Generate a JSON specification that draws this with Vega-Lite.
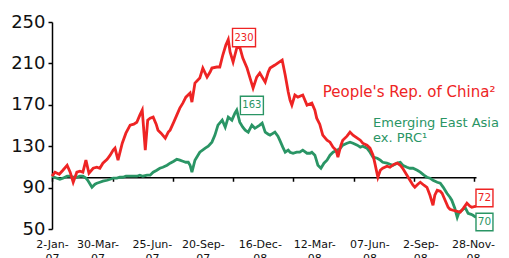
{
 "$schema": "https://vega.github.io/schema/vega-lite/v6.json",
 "width": 424,
 "height": 207,
 "autosize": "none",
 "padding": {"left": 52, "top": 22, "right": 33, "bottom": 29},
 "background": "white",
 "config": {"view": {"stroke": null}, "font": "DejaVu Sans", "axis": {"labelFont": "DejaVu Sans", "grid": false}},
 "datasets": {
  "eea": [
   {"d":"2007-01-02","v":101.0},{"d":"2007-01-10","v":99.1},{"d":"2007-01-15","v":98.1},{"d":"2007-01-20","v":99.1},{"d":"2007-01-27","v":101.0},{"d":"2007-02-01","v":101.0},{"d":"2007-02-07","v":100.0},{"d":"2007-02-12","v":100.0},{"d":"2007-02-17","v":101.0},{"d":"2007-02-22","v":101.0},{"d":"2007-02-27","v":99.1},{"d":"2007-03-02","v":97.1},{"d":"2007-03-06","v":93.3},{"d":"2007-03-09","v":90.3},{"d":"2007-03-14","v":93.3},{"d":"2007-03-17","v":94.2},{"d":"2007-03-22","v":95.2},{"d":"2007-03-27","v":96.2},{"d":"2007-04-03","v":97.1},{"d":"2007-04-08","v":98.1},{"d":"2007-04-13","v":99.1},{"d":"2007-04-19","v":99.1},{"d":"2007-04-24","v":100.0},{"d":"2007-04-29","v":100.0},{"d":"2007-05-04","v":101.0},{"d":"2007-05-11","v":101.0},{"d":"2007-05-17","v":101.0},{"d":"2007-05-22","v":101.0},{"d":"2007-05-27","v":102.0},{"d":"2007-06-01","v":101.0},{"d":"2007-06-08","v":102.0},{"d":"2007-06-13","v":102.0},{"d":"2007-06-18","v":104.9},{"d":"2007-06-24","v":106.8},{"d":"2007-06-29","v":108.7},{"d":"2007-07-04","v":109.7},{"d":"2007-07-11","v":111.6},{"d":"2007-07-16","v":113.6},{"d":"2007-07-22","v":115.5},{"d":"2007-07-27","v":117.4},{"d":"2007-08-01","v":116.5},{"d":"2007-08-06","v":115.5},{"d":"2007-08-11","v":114.5},{"d":"2007-08-15","v":114.5},{"d":"2007-08-18","v":111.6},{"d":"2007-08-21","v":104.9},{"d":"2007-08-26","v":116.5},{"d":"2007-08-29","v":119.4},{"d":"2007-09-03","v":124.2},{"d":"2007-09-12","v":128.1},{"d":"2007-09-17","v":130.0},{"d":"2007-09-23","v":133.9},{"d":"2007-09-28","v":140.7},{"d":"2007-10-03","v":150.3},{"d":"2007-10-10","v":155.2},{"d":"2007-10-15","v":148.4},{"d":"2007-10-20","v":158.1},{"d":"2007-10-26","v":155.2},{"d":"2007-10-31","v":162.0},{"d":"2007-11-03","v":164.9},{"d":"2007-11-08","v":153.2},{"d":"2007-11-13","v":148.4},{"d":"2007-11-17","v":145.5},{"d":"2007-11-22","v":143.6},{"d":"2007-11-28","v":150.3},{"d":"2007-12-03","v":147.4},{"d":"2007-12-06","v":148.4},{"d":"2007-12-11","v":150.3},{"d":"2007-12-15","v":152.3},{"d":"2007-12-20","v":143.6},{"d":"2007-12-25","v":141.6},{"d":"2007-12-28","v":140.7},{"d":"2008-01-05","v":143.6},{"d":"2008-01-10","v":139.7},{"d":"2008-01-13","v":135.8},{"d":"2008-01-18","v":129.1},{"d":"2008-01-22","v":124.2},{"d":"2008-01-27","v":126.2},{"d":"2008-01-30","v":124.2},{"d":"2008-02-04","v":123.2},{"d":"2008-02-10","v":124.2},{"d":"2008-02-15","v":124.2},{"d":"2008-02-20","v":126.2},{"d":"2008-02-27","v":123.2},{"d":"2008-03-03","v":123.2},{"d":"2008-03-06","v":124.2},{"d":"2008-03-11","v":121.3},{"d":"2008-03-16","v":111.6},{"d":"2008-03-21","v":108.7},{"d":"2008-03-26","v":113.6},{"d":"2008-03-31","v":116.5},{"d":"2008-04-05","v":121.3},{"d":"2008-04-10","v":124.2},{"d":"2008-04-17","v":126.2},{"d":"2008-04-22","v":128.1},{"d":"2008-04-26","v":131.0},{"d":"2008-05-03","v":132.9},{"d":"2008-05-08","v":133.9},{"d":"2008-05-13","v":132.9},{"d":"2008-05-20","v":131.0},{"d":"2008-05-25","v":129.1},{"d":"2008-05-29","v":130.0},{"d":"2008-06-05","v":128.1},{"d":"2008-06-10","v":124.2},{"d":"2008-06-15","v":119.4},{"d":"2008-06-22","v":118.4},{"d":"2008-06-27","v":116.5},{"d":"2008-07-01","v":114.5},{"d":"2008-07-08","v":113.6},{"d":"2008-07-13","v":112.6},{"d":"2008-07-18","v":111.6},{"d":"2008-07-25","v":113.6},{"d":"2008-07-30","v":114.5},{"d":"2008-08-03","v":111.6},{"d":"2008-08-10","v":109.7},{"d":"2008-08-15","v":108.7},{"d":"2008-08-20","v":108.7},{"d":"2008-08-27","v":106.8},{"d":"2008-09-01","v":104.9},{"d":"2008-09-07","v":102.0},{"d":"2008-09-12","v":100.0},{"d":"2008-09-17","v":99.1},{"d":"2008-09-22","v":97.1},{"d":"2008-09-29","v":95.2},{"d":"2008-10-04","v":94.2},{"d":"2008-10-09","v":90.3},{"d":"2008-10-15","v":84.5},{"d":"2008-10-20","v":80.7},{"d":"2008-10-23","v":77.8},{"d":"2008-10-28","v":70.0},{"d":"2008-11-01","v":61.3},{"d":"2008-11-04","v":66.2},{"d":"2008-11-09","v":68.1},{"d":"2008-11-14","v":71.0},{"d":"2008-11-19","v":65.2},{"d":"2008-11-24","v":64.2},{"d":"2008-11-27","v":63.3},{"d":"2008-12-02","v":61.3}
  ],
  "prc": [
   {"d":"2007-01-02","v":101.0},{"d":"2007-01-07","v":104.9},{"d":"2007-01-14","v":102.9},{"d":"2007-01-20","v":106.8},{"d":"2007-01-27","v":111.6},{"d":"2007-02-01","v":104.9},{"d":"2007-02-06","v":95.2},{"d":"2007-02-12","v":104.9},{"d":"2007-02-17","v":105.8},{"d":"2007-02-22","v":104.9},{"d":"2007-02-27","v":116.5},{"d":"2007-03-04","v":103.9},{"d":"2007-03-11","v":108.7},{"d":"2007-03-17","v":109.7},{"d":"2007-03-22","v":108.7},{"d":"2007-03-27","v":113.6},{"d":"2007-04-03","v":117.4},{"d":"2007-04-08","v":121.3},{"d":"2007-04-13","v":126.2},{"d":"2007-04-16","v":128.1},{"d":"2007-04-21","v":116.5},{"d":"2007-04-28","v":132.9},{"d":"2007-05-04","v":142.6},{"d":"2007-05-11","v":150.3},{"d":"2007-05-17","v":151.3},{"d":"2007-05-22","v":153.2},{"d":"2007-05-27","v":160.0},{"d":"2007-05-31","v":164.9},{"d":"2007-06-05","v":126.2},{"d":"2007-06-09","v":155.2},{"d":"2007-06-13","v":157.1},{"d":"2007-06-18","v":158.1},{"d":"2007-06-23","v":151.3},{"d":"2007-06-26","v":145.5},{"d":"2007-07-01","v":142.6},{"d":"2007-07-08","v":137.8},{"d":"2007-07-13","v":143.6},{"d":"2007-07-16","v":145.5},{"d":"2007-07-22","v":153.2},{"d":"2007-07-27","v":160.0},{"d":"2007-08-01","v":166.8},{"d":"2007-08-06","v":171.6},{"d":"2007-08-11","v":177.4},{"d":"2007-08-18","v":181.3},{"d":"2007-08-21","v":172.6},{"d":"2007-08-26","v":191.0},{"d":"2007-09-03","v":195.8},{"d":"2007-09-08","v":205.5},{"d":"2007-09-15","v":196.8},{"d":"2007-09-20","v":201.6},{"d":"2007-09-23","v":205.5},{"d":"2007-10-01","v":206.5},{"d":"2007-10-06","v":206.5},{"d":"2007-10-11","v":218.1},{"d":"2007-10-16","v":227.7},{"d":"2007-10-20","v":233.0},{"d":"2007-10-23","v":221.0},{"d":"2007-10-28","v":211.3},{"d":"2007-10-31","v":218.1},{"d":"2007-11-03","v":224.8},{"d":"2007-11-08","v":225.8},{"d":"2007-11-13","v":215.2},{"d":"2007-11-20","v":205.5},{"d":"2007-11-25","v":195.8},{"d":"2007-11-30","v":186.1},{"d":"2007-12-06","v":196.8},{"d":"2007-12-11","v":200.7},{"d":"2007-12-20","v":191.9},{"d":"2007-12-25","v":201.6},{"d":"2007-12-28","v":205.5},{"d":"2008-01-05","v":208.4},{"d":"2008-01-12","v":211.3},{"d":"2008-01-17","v":213.2},{"d":"2008-01-22","v":198.7},{"d":"2008-01-27","v":182.3},{"d":"2008-01-30","v":174.5},{"d":"2008-02-02","v":169.7},{"d":"2008-02-07","v":179.4},{"d":"2008-02-12","v":177.4},{"d":"2008-02-20","v":179.4},{"d":"2008-02-27","v":169.7},{"d":"2008-03-06","v":171.6},{"d":"2008-03-11","v":164.9},{"d":"2008-03-14","v":157.1},{"d":"2008-03-19","v":151.3},{"d":"2008-03-24","v":140.7},{"d":"2008-03-31","v":135.8},{"d":"2008-04-05","v":133.9},{"d":"2008-04-10","v":129.1},{"d":"2008-04-15","v":126.2},{"d":"2008-04-18","v":119.4},{"d":"2008-04-23","v":131.0},{"d":"2008-04-26","v":135.8},{"d":"2008-05-03","v":139.7},{"d":"2008-05-08","v":143.6},{"d":"2008-05-13","v":140.7},{"d":"2008-05-20","v":137.8},{"d":"2008-05-25","v":135.8},{"d":"2008-05-29","v":132.9},{"d":"2008-06-05","v":131.0},{"d":"2008-06-10","v":128.1},{"d":"2008-06-15","v":121.3},{"d":"2008-06-18","v":113.6},{"d":"2008-06-23","v":100.0},{"d":"2008-06-27","v":106.8},{"d":"2008-07-01","v":108.7},{"d":"2008-07-08","v":110.7},{"d":"2008-07-13","v":109.7},{"d":"2008-07-20","v":112.6},{"d":"2008-07-25","v":113.6},{"d":"2008-07-30","v":111.6},{"d":"2008-08-03","v":108.7},{"d":"2008-08-10","v":102.0},{"d":"2008-08-15","v":97.1},{"d":"2008-08-20","v":92.3},{"d":"2008-08-23","v":90.3},{"d":"2008-08-28","v":93.3},{"d":"2008-09-01","v":95.2},{"d":"2008-09-07","v":92.3},{"d":"2008-09-12","v":90.3},{"d":"2008-09-17","v":82.6},{"d":"2008-09-22","v":72.9},{"d":"2008-09-25","v":82.6},{"d":"2008-09-29","v":87.4},{"d":"2008-10-04","v":86.5},{"d":"2008-10-07","v":84.5},{"d":"2008-10-12","v":77.8},{"d":"2008-10-17","v":71.0},{"d":"2008-10-20","v":69.1},{"d":"2008-10-25","v":68.1},{"d":"2008-11-01","v":67.1},{"d":"2008-11-06","v":66.2},{"d":"2008-11-11","v":70.0},{"d":"2008-11-17","v":74.9},{"d":"2008-11-22","v":72.0},{"d":"2008-11-25","v":71.0},{"d":"2008-12-02","v":72.0}
  ],
  "big": [
   {"d":"2007-11-15","v":235.0,"t":"230","s":"prc"},
   {"d":"2007-11-28","v":169.4,"t":"163","s":"eea"}
  ],
  "small": [
   {"d":"2008-12-16","v":79.9,"t":"72","s":"prc"},
   {"d":"2008-12-16","v":56.8,"t":"70","s":"eea"}
  ],
  "notes": [
   {"d":"2008-03-24","v":177.1,"t":"People's Rep. of China²","s":"prc"},
   {"d":"2008-06-15","v":148.1,"t":"Emerging East Asia","s":"eea"},
   {"d":"2008-06-15","v":133.9,"t":"ex. PRC¹","s":"eea"}
  ]
 },
 "layer": [
  {
   "data": {"name": "eea"},
   "mark": {"type": "line", "color": "#2a9565", "strokeWidth": 2.8},
   "encoding": {
    "x": {"field": "d", "type": "temporal",
     "scale": {"domain": [{"year": 2007, "month": 1, "date": 2}, {"year": 2008, "month": 12, "date": 2}]},
     "axis": {"orient": "bottom", "domain": false, "ticks": false, "tickSize": 0, "labelPadding": 9, "labelFontSize": 11, "labelColor": "#111", "labelLineHeight": 14, "labelFlush": false, "labelOverlap": false, "labelAlign": "center", "title": null,
      "values": [{"year":2007,"month":1,"date":2},{"year":2007,"month":3,"date":18},{"year":2007,"month":6,"date":16},{"year":2007,"month":9,"date":8},{"year":2007,"month":12,"date":11},{"year":2008,"month":3,"date":10},{"year":2008,"month":6,"date":9},{"year":2008,"month":9,"date":1},{"year":2008,"month":11,"date":27}],
      "labelExpr": "[['2-Jan-','07'],['30-Mar-','07'],['25-Jun-','07'],['20-Sep-','07'],['16-Dec-','08'],['12-Mar-','08'],['07-Jun-','08'],['2-Sep-','08'],['28-Nov-','08']][indexof(['2007-01','2007-03','2007-06','2007-09','2007-12','2008-03','2008-06','2008-09','2008-11'], timeFormat(datum.value,'%Y-%m'))]"
     }},
    "y": {"field": "v", "type": "quantitative",
     "scale": {"domain": [50, 250], "nice": false, "zero": false},
     "axis": {"values": [50, 90, 130, 170, 210, 250], "domainColor": "black", "domainWidth": 1.5, "tickColor": "black", "tickWidth": 1.5, "tickSize": 4, "labelFontSize": 18, "labelColor": "#111", "labelPadding": 3, "title": null, "grid": false}}
   }
  },
  {
   "data": {"name": "prc"},
   "mark": {"type": "line", "color": "#ee2424", "strokeWidth": 2.8},
   "encoding": {
    "x": {"field": "d", "type": "temporal",
     "axis": {"orient": "bottom", "offset": -51.75, "labels": false, "domain": true, "domainColor": "black", "domainWidth": 1.5, "ticks": true, "tickColor": "black", "tickWidth": 1.5, "tickSize": 4, "title": null, "grid": false,
      "values": [{"year":2007,"month":1,"date":2},{"year":2007,"month":4,"date":12},{"year":2007,"month":7,"date":20},{"year":2007,"month":10,"date":28},{"year":2008,"month":2,"date":4},{"year":2008,"month":5,"date":14},{"year":2008,"month":8,"date":21},{"year":2008,"month":11,"date":29}]}},
    "y": {"field": "v", "type": "quantitative"}
   }
  },
  {
   "data": {"name": "big"},
   "mark": {"type": "point", "shape": "M-1,-0.8H1V0.8H-1Z", "size": 529, "filled": false, "fill": "white", "fillOpacity": 1, "strokeWidth": 1.4, "opacity": 1},
   "encoding": {
    "x": {"field": "d", "type": "temporal", "axis": null},
    "y": {"field": "v", "type": "quantitative"},
    "stroke": {"field": "s", "type": "nominal", "scale": {"domain": ["prc", "eea"], "range": ["#ee2424", "#2a9565"]}, "legend": null}
   }
  },
  {
   "data": {"name": "small"},
   "mark": {"type": "point", "shape": "M-0.97,-1H0.97V1H-0.97Z", "size": 306, "filled": false, "fill": "white", "fillOpacity": 1, "strokeWidth": 1.4, "opacity": 1},
   "encoding": {
    "x": {"field": "d", "type": "temporal", "axis": null},
    "y": {"field": "v", "type": "quantitative"},
    "stroke": {"field": "s", "type": "nominal", "scale": {"domain": ["prc", "eea"], "range": ["#ee2424", "#2a9565"]}, "legend": null}
   }
  },
  {
   "data": {"name": "big"},
   "mark": {"type": "text", "fontSize": 10, "align": "center", "baseline": "middle", "font": "DejaVu Sans"},
   "encoding": {
    "x": {"field": "d", "type": "temporal", "axis": null},
    "y": {"field": "v", "type": "quantitative"},
    "text": {"field": "t"},
    "color": {"field": "s", "type": "nominal", "scale": {"domain": ["prc", "eea"], "range": ["#ee2424", "#2a9565"]}, "legend": null}
   }
  },
  {
   "data": {"name": "small"},
   "mark": {"type": "text", "fontSize": 10.5, "align": "center", "baseline": "middle", "font": "DejaVu Sans"},
   "encoding": {
    "x": {"field": "d", "type": "temporal", "axis": null},
    "y": {"field": "v", "type": "quantitative"},
    "text": {"field": "t"},
    "color": {"field": "s", "type": "nominal", "scale": {"domain": ["prc", "eea"], "range": ["#ee2424", "#2a9565"]}, "legend": null}
   }
  },
  {
   "data": {"name": "notes"},
   "mark": {"type": "text", "align": "left", "baseline": "alphabetic", "font": "DejaVu Sans"},
   "encoding": {
    "x": {"field": "d", "type": "temporal", "axis": null},
    "y": {"field": "v", "type": "quantitative"},
    "text": {"field": "t"},
    "size": {"field": "s", "type": "nominal", "scale": {"domain": ["prc", "eea"], "range": [15, 13]}, "legend": null},
    "color": {"field": "s", "type": "nominal", "scale": {"domain": ["prc", "eea"], "range": ["#ee2424", "#2a9565"]}, "legend": null}
   }
  }
 ],
 "resolve": {"axis": {"x": "independent"}}
}
